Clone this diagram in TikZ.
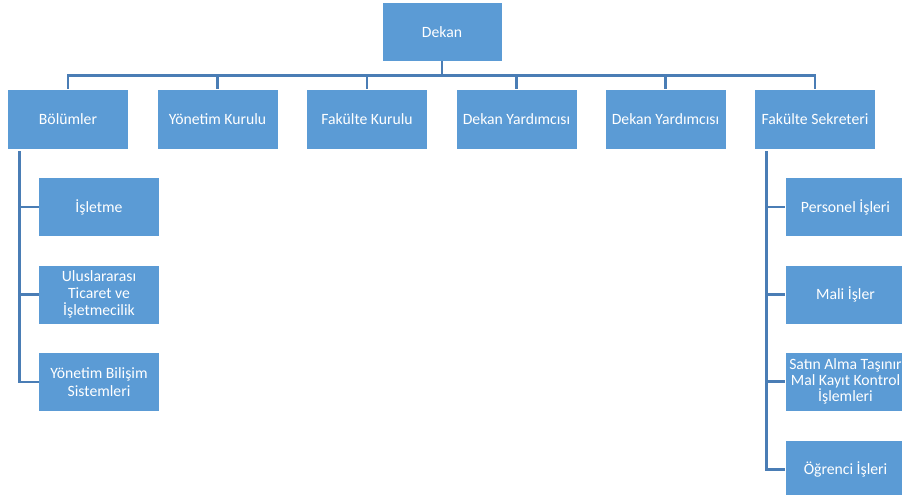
\documentclass[tikz,border=0pt]{standalone}
\usepackage{fontspec}
\setmainfont{Carlito}
\definecolor{boxblue}{HTML}{5B9BD5}
\definecolor{lineblue}{HTML}{4A7DB5}
\begin{document}
\begin{tikzpicture}[x=1pt,y=-1pt,
  orgbox/.style={rectangle, fill=boxblue, draw=white, line width=0.6pt,
    minimum width=121pt, minimum height=59pt, inner sep=0pt, outer sep=0pt,
    text=white, align=center, font=\fontsize{15.7}{17.3}\selectfont},
  topbox/.style={orgbox, minimum height=60pt},
  conn/.style={draw=lineblue, line width=2.6pt}]
\clip (0,0) rectangle (902,495);
\fill[white] (0,0) rectangle (902,495);

\node[orgbox, minimum width=120pt] (dekan) at (442,32) {Dekan};

\node[topbox] (bol) at (68,119) {Bölümler};
\node[topbox] (yk)  at (217.5,119) {Yönetim Kurulu};
\node[topbox] (fk)  at (367,119) {Fakülte Kurulu};
\node[topbox] (dy1) at (516.5,119) {Dekan Yardımcısı};
\node[topbox] (dy2) at (665.5,119) {Dekan Yardımcısı};
\node[topbox] (fs)  at (815,119) {Fakülte Sekreteri};

\node[orgbox] (isl) at (99,207) {İşletme};
\node[orgbox] (uti) at (99,294.5) {Uluslararası\\Ticaret ve\\İşletmecilik};
\node[orgbox] (ybs) at (99,382) {Yönetim Bilişim\\Sistemleri};

\node[orgbox] (per) at (845.5,207) {Personel İşleri};
\node[orgbox] (mal) at (845.5,294.5) {Mali İşler};
\node[orgbox, font=\fontsize{15.7}{16.2}\selectfont] (sat) at (845.5,381.5) {Satın Alma Taşınır\\Mal Kayıt Kontrol\\İşlemleri};
\node[orgbox] (ogr) at (845.5,469.5) {Öğrenci İşleri};

\foreach \c in {bol,yk,fk,dy1,dy2,fs}
  \draw[conn] (dekan.south) -- ++(0,14) -| (\c.north);

\foreach \c in {isl,uti,ybs}
  \draw[conn] ([xshift=12pt,yshift=-2pt]bol.south west) |- (\c.west);

\foreach \c in {per,mal,sat,ogr}
  \draw[conn] ([xshift=12pt,yshift=-2pt]fs.south west) |- (\c.west);
\end{tikzpicture}
\end{document}
